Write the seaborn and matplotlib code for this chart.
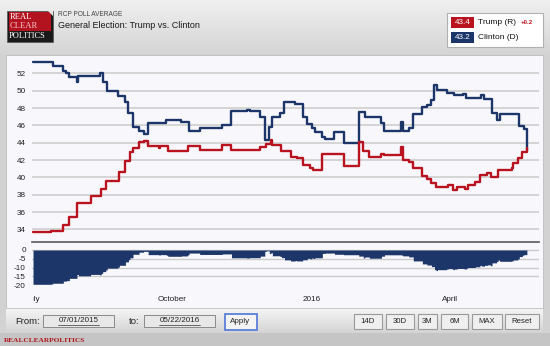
import matplotlib
matplotlib.use("Agg")
import numpy as np
import pandas as pd
import matplotlib.pyplot as plt
import seaborn as sns
from matplotlib.patches import Rectangle, Polygon
from matplotlib.transforms import Bbox, TransformedBbox
from matplotlib.colors import to_rgb

# ---------------- data (day offsets from 2015-07-01, step changes) ----------------
start_date = "2015-07-01"
clinton_days = [0, 13, 20, 22, 24, 29, 30, 44, 46, 49, 56, 61, 63, 66, 70, 73, 76, 88, 98, 103,
                110, 125, 131, 141, 143, 150, 153, 156, 158, 163, 166, 173, 178, 181, 184, 186,
                191, 193, 199, 205, 215, 219, 230, 232, 243, 244, 248, 251, 257, 260, 263, 265,
                267, 273, 278, 284, 286, 296, 298, 303, 306, 308, 321, 324, 326]
clinton_vals = [53.3, 52.85, 52.3, 52.0, 51.6, 51.0, 51.75, 52.05, 51.0, 50.0, 49.4, 48.7, 47.4,
                45.85, 45.3, 45.0, 46.25, 46.6, 46.4, 45.35, 45.7, 46.0, 47.65, 47.8, 47.6, 47.0,
                44.3, 45.85, 47.0, 47.4, 48.7, 48.45, 47.0, 46.2, 45.7, 45.25, 44.6, 44.4, 45.2,
                44.0, 47.55, 47.0, 46.3, 45.3, 46.4, 45.35, 45.7, 47.3, 48.15, 48.4, 48.9, 50.6,
                50.1, 49.75, 49.45, 49.6, 49.1, 49.5, 49.05, 47.4, 46.6, 47.3, 45.95, 45.6, 43.2]
trump_days = [0, 12, 20, 24, 29, 38, 45, 48, 57, 61, 64, 66, 70, 73, 76, 83, 84, 89, 102, 110,
              125, 131, 150, 154, 157, 158, 164, 170, 174, 178, 183, 185, 191, 199, 205, 215,
              218, 222, 230, 232, 243, 244, 248, 251, 257, 260, 263, 266, 274, 277, 280, 285,
              287, 292, 295, 300, 302, 307, 316, 317, 320, 323, 326]
trump_vals = [33.7, 33.85, 34.5, 35.4, 37.0, 37.8, 38.65, 39.6, 40.65, 41.9, 42.95, 43.4, 44.05,
              44.2, 43.6, 43.35, 43.6, 43.0, 43.6, 43.15, 43.75, 43.2, 43.5, 43.8, 44.3, 43.7,
              43.05, 42.4, 42.2, 41.4, 41.1, 40.8, 42.65, 42.75, 41.3, 44.05, 43.0, 42.3, 42.75,
              42.55, 43.5, 42.0, 41.75, 41.05, 40.2, 39.8, 39.4, 38.85, 39.1, 38.55, 38.9, 38.7,
              39.1, 39.5, 40.3, 40.55, 40.05, 40.85, 41.1, 41.6, 42.2, 42.95, 43.4]
candidates = ["Trump (R)", "Clinton (D)"]
latest = ["43.4", "43.2"]
change = "+0.2"
y_ticks_main = [34, 36, 38, 40, 42, 44, 46, 48, 50, 52]
y_ticks_diff = [-20, -15, -10, -5, 0]
x_tick_dates = ["2015-07-01", "2015-10-01", "2016-01-01", "2016-04-01"]
x_tick_labels = ["July", "October", "2016", "April"]
range_from, range_to = "07/01/2015", "05/22/2016"
buttons = ["14D", "30D", "3M", "6M", "MAX", "Reset"]

RED = "#b8131f"
NAVY = "#1d3669"

# ---------------- figure ----------------
sns.set_theme(style="white")
plt.rcParams["font.family"] = ["Liberation Sans", "DejaVu Sans"]
plt.rcParams["axes.unicode_minus"] = False

W, H = 550, 346
fig = plt.figure(figsize=(5.5, 3.46), dpi=100)
fig.patch.set_facecolor("#c8c8c8")

bg = fig.add_axes([0, 0, 1, 1])
bg.axis("off")


def grad(x0, y0, x1, y1, c0, c1):
    a, b = np.array(to_rgb(c0)), np.array(to_rgb(c1))
    t = np.linspace(0, 1, 64)[:, None]
    img = (a * (1 - t) + b * t)[:, None, :]
    bg.imshow(img, extent=(x0, x1, y1, y0), aspect="auto", interpolation="bilinear", zorder=0)


grad(0, 0, W, 55, "#f0f0f0", "#d4d4d4")
bg.add_patch(Rectangle((0, 55), 6, 278, fc="#d2d2d2", ec="none"))
bg.add_patch(Rectangle((543, 55), 7, 278, fc="#d2d2d2", ec="none"))
bg.add_patch(Rectangle((6, 55), 537, 253, fc="#f8f8fc", ec="#bdbdbd", lw=0.6, zorder=1))
grad(6, 308, 543, 333, "#f6f6f6", "#d4d4d4")
bg.add_patch(Rectangle((0, 333), W, 13, fc="#c5c5c5", ec="none", zorder=1))

# logo
bg.add_patch(Rectangle((7, 10.5), 46, 31.5, fc="#1a1a1a", ec="#555555", lw=0.5, zorder=2))
bg.add_patch(Rectangle((8.5, 12.3), 42, 18.5, fc="#b3121f", ec="none", zorder=3))
bg.add_patch(Polygon([(47.5, 10.5), (53, 10.5), (53, 16)], closed=True, fc="#e6e6e6", ec="none", zorder=4))
serif = ["Liberation Serif", "DejaVu Serif"]
bg.text(9.5, 17.2, "REAL", family=serif, fontsize=6.2, color="white", va="center", zorder=5)
bg.text(9.5, 25.8, "CLEAR", family=serif, fontsize=6.2, color="#f6c9cc", va="center", zorder=5)
bg.text(9.0, 36.0, "POLITICS", family=serif, fontsize=6.0, color="white", va="center", zorder=5)

bg.text(58, 15, "RCP POLL AVERAGE", fontsize=4.7, color="#444444", va="center")
bg.text(58, 26, "General Election: Trump vs. Clinton", fontsize=6.5, color="#1a1a1a", va="center")

# legend box
bg.add_patch(Rectangle((447, 13), 96, 34, fc="white", ec="#b0b0b0", lw=0.8, zorder=2))
for i, (name, val, col) in enumerate(zip(candidates, latest, [RED, NAVY])):
    yc = 22.5 + 15 * i
    bg.add_patch(Rectangle((451, yc - 5.5), 23, 11, fc=col, ec="none", zorder=3))
    bg.text(462.5, yc, val, fontsize=5.9, color="white", ha="center", va="center", zorder=4)
    bg.text(478, yc, name, fontsize=6.0, color="#111111", va="center", zorder=4)
bg.text(520.5, 23, change, fontsize=4.4, color="#c0141e", weight="bold", va="center", zorder=4)

# controls
bg.text(15, 321, "From:", fontsize=6.8, color="#222222", va="center")
bg.text(129, 321, "to:", fontsize=6.8, color="#222222", va="center")
for x0, txt in [(43, range_from), (144, range_to)]:
    bg.add_patch(Rectangle((x0, 315), 71, 12, fc="#e8e8e8", ec="#8a8a8a", lw=0.7, zorder=2))
    bg.text(x0 + 35.5, 320.8, txt, fontsize=5.8, color="#222222", ha="center", va="center", zorder=3)
    bg.plot([x0 + 15, x0 + 56], [324.6, 324.6], color="#333333", lw=0.5, zorder=3)
bg.add_patch(Rectangle((224.5, 313.5), 32, 16, fc="#f3f3f3", ec="#5b7fd8", lw=1.3, zorder=2))
bg.text(240.5, 321.5, "Apply", fontsize=5.8, color="#222222", ha="center", va="center", zorder=3)
btn_x = [(354, 382), (386, 414), (418, 437), (441, 468), (472, 502), (505, 539)]
for (x0, x1), lab in zip(btn_x, buttons):
    bg.add_patch(Rectangle((x0, 313.5), x1 - x0, 15.5, fc="#efefef", ec="#9a9a9a", lw=0.8, zorder=2))
    bg.text((x0 + x1) / 2, 321.3, lab, fontsize=5.6, color="#222222", ha="center", va="center", zorder=3)

bg.text(4, 340, "REALCLEARPOLITICS", family=serif, fontsize=5.3, weight="bold", color="#b0161d", va="center")
bg.set_xlim(0, W)
bg.set_ylim(H, 0)

# ---------------- data frames ----------------
t0 = pd.Timestamp(start_date)
df = pd.concat([
    pd.DataFrame({"date": t0 + pd.to_timedelta(trump_days, unit="D"), "value": trump_vals,
                  "candidate": candidates[0]}),
    pd.DataFrame({"date": t0 + pd.to_timedelta(clinton_days, unit="D"), "value": clinton_vals,
                  "candidate": candidates[1]}),
], ignore_index=True)

full = range(0, max(trump_days) + 1)
tr = pd.Series(trump_vals, index=trump_days).reindex(full).ffill()
cl = pd.Series(clinton_vals, index=clinton_days).reindex(full).ffill()
diff_df = pd.DataFrame({"date": t0 + pd.to_timedelta(list(full), unit="D"), "spread": (tr - cl).values})

xmin = t0 - pd.Timedelta(hours=16)
xmax = t0 + pd.Timedelta(days=334)

# ---------------- main axes ----------------
ax = fig.add_axes([32 / W, 1 - 241.5 / H, 507 / W, 185.5 / H])
ax.set_facecolor("#f8f8fc")
sns.lineplot(data=df, x="date", y="value", hue="candidate", hue_order=candidates[::-1],
             palette={candidates[0]: RED, candidates[1]: NAVY}, estimator=None,
             drawstyle="steps-post", legend=False, lw=1.7, ax=ax)
ax.set_xlim(xmin, xmax)
ax.set_ylim(32.6, 54.0)
ax.set_yticks(y_ticks_main)
ax.set_xticks([])
ax.grid(axis="y", color="#cbcbcb", lw=1.1)
ax.grid(axis="x", visible=False)
for s in ["top", "left", "right"]:
    ax.spines[s].set_visible(False)
ax.spines["bottom"].set_color("#5a5a5a")
ax.spines["bottom"].set_linewidth(1.2)
ax.tick_params(axis="y", length=0, pad=4.5, labelsize=5.9, labelcolor="#222222")
ax.set_xlabel("")
ax.set_ylabel("")

# ---------------- spread axes ----------------
ax2 = fig.add_axes([32 / W, 1 - 292 / H, 507 / W, 49 / H])
ax2.set_facecolor("#f8f8fc")
ax2.fill_between(diff_df["date"], diff_df["spread"], 0, step="post", color=NAVY, lw=0)
ax2.set_xlim(xmin, xmax)
ax2.set_ylim(-24, 4)
ax2.set_yticks(y_ticks_diff)
ax2.grid(axis="y", color="#cbcbcb", lw=1.0)
ax2.grid(axis="x", visible=False)
ax2.get_ygridlines()[0].set_visible(False)
ax2.set_axisbelow(True)
for s in ax2.spines.values():
    s.set_visible(False)
ax2.set_xticks(pd.to_datetime(x_tick_dates))
ax2.set_xticklabels(x_tick_labels)
ax2.tick_params(axis="y", length=0, pad=4.5, labelsize=5.9, labelcolor="#222222")
ax2.tick_params(axis="x", length=0, pad=3, labelsize=5.9, labelcolor="#222222")
clip = TransformedBbox(Bbox([[33 / W, 0], [1, 1]]), fig.transFigure)
for lbl in ax2.get_xticklabels():
    lbl.set_clip_box(clip)
    lbl.set_clip_on(True)

fig.savefig("out.png", dpi=100, facecolor=fig.get_facecolor())
